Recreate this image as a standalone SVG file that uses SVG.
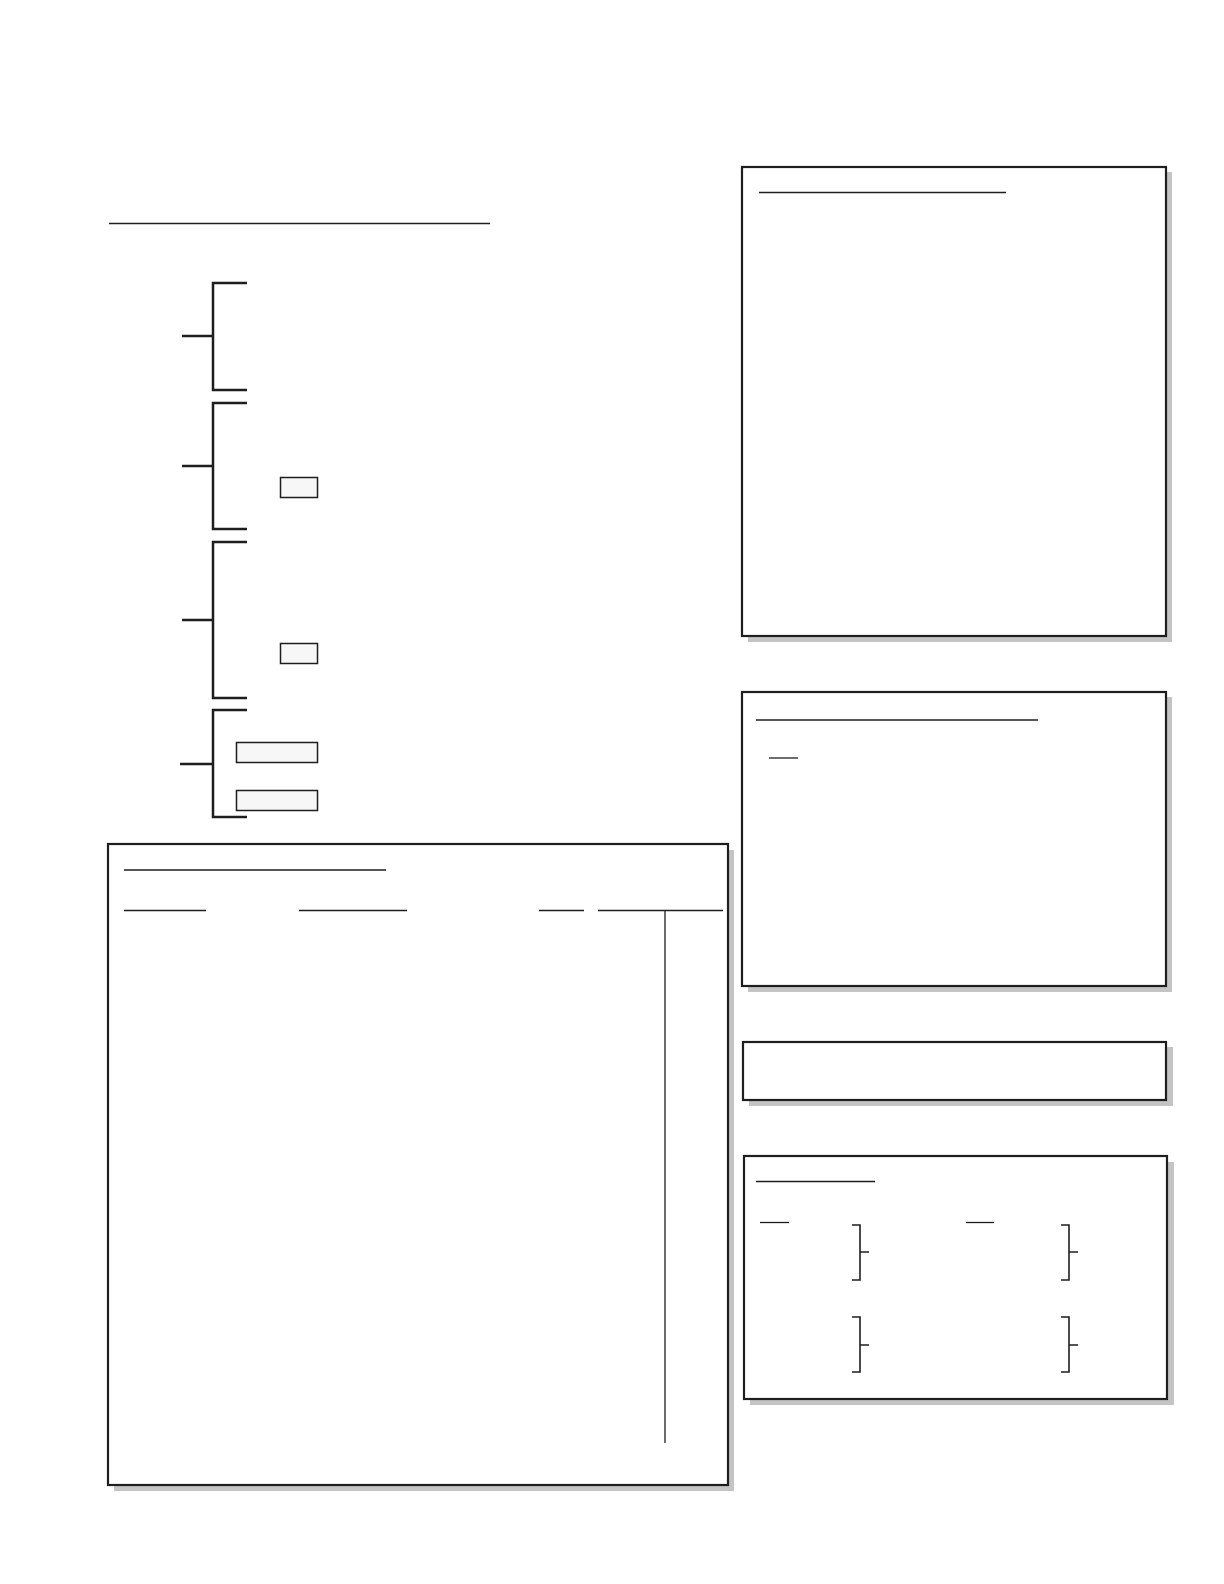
<svg xmlns="http://www.w3.org/2000/svg" width="1224" height="1584" viewBox="0 0 1224 1584">
<style>
.shadow{fill:#c4c4c4;stroke:none}
.panel{fill:#ffffff;stroke:#1e1e1e;stroke-width:2.2}
.rule{stroke:#1e1e1e;stroke-width:1.7;fill:none}
.thin{stroke:#1e1e1e;stroke-width:1.3;fill:none}
.br{stroke:#1e1e1e;stroke-width:2.5;fill:none}
.sbox{fill:#f7f7f7;stroke:#1e1e1e;stroke-width:1.5}
</style>
<rect width="1224" height="1584" fill="#ffffff"/>
<line class="rule" x1="109" y1="223.5" x2="490" y2="223.5"/>
<g id="bracket1"><path class="br" d="M247,283 H213 V390 H247 M182,336 H213"/></g>
<g id="bracket2"><path class="br" d="M247,403 H213 V529 H247 M182,466 H213"/>
<rect class="sbox" x="280.5" y="477.5" width="37" height="20"/></g>
<g id="bracket3"><path class="br" d="M247,542 H213 V698 H247 M182,620 H213"/>
<rect class="sbox" x="280.5" y="643.5" width="37" height="20"/></g>
<g id="bracket4"><path class="br" d="M247,710 H213 V817 H247 M180,764 H213"/>
<rect class="sbox" x="236.5" y="742.5" width="81" height="20"/>
<rect class="sbox" x="236.5" y="790.5" width="81" height="20"/></g>
<g id="panel-right1">
<rect class="shadow" x="748" y="172" width="424" height="470"/>
<rect class="panel" x="742" y="167" width="424" height="469"/>
<line class="rule" x1="759" y1="192.5" x2="1006" y2="192.5"/>
</g>
<g id="panel-right2">
<rect class="shadow" x="748" y="697" width="424" height="295"/>
<rect class="panel" x="742" y="692" width="424" height="294"/>
<line class="rule" x1="756" y1="720" x2="1038" y2="720"/>
<line class="thin" x1="769" y1="758" x2="798" y2="758"/>
</g>
<g id="panel-right3">
<rect class="shadow" x="749" y="1047" width="424" height="59"/>
<rect class="panel" x="743" y="1042" width="423" height="58"/>
</g>
<g id="panel-right4">
<rect class="shadow" x="750" y="1162" width="424" height="243"/>
<rect class="panel" x="744" y="1156" width="423" height="243"/>
<line class="rule" x1="756" y1="1181.5" x2="875" y2="1181.5"/>
<line class="thin" x1="760" y1="1222.5" x2="789" y2="1222.5"/>
<line class="thin" x1="966" y1="1222.5" x2="994" y2="1222.5"/>
<path class="thin" d="M852,1225 H860 V1280 H852 M860,1252 H869" style="stroke-width:1.6"/>
<path class="thin" d="M852,1317 H860 V1372 H852 M860,1345 H869" style="stroke-width:1.6"/>
<path class="thin" d="M1061,1225 H1069 V1280 H1061 M1069,1252 H1078" style="stroke-width:1.6"/>
<path class="thin" d="M1061,1317 H1069 V1372 H1061 M1069,1345 H1078" style="stroke-width:1.6"/>
</g>
<g id="panel-left">
<rect class="shadow" x="114" y="850" width="620" height="641"/>
<rect class="panel" x="108" y="844" width="620" height="641"/>
<line class="rule" x1="124" y1="870" x2="386" y2="870"/>
<line class="thin" x1="124" y1="910.5" x2="206" y2="910.5"/>
<line class="thin" x1="299" y1="910.5" x2="407" y2="910.5"/>
<line class="thin" x1="539" y1="910.5" x2="584" y2="910.5"/>
<line class="thin" x1="598" y1="910.5" x2="723" y2="910.5"/>
<line class="thin" x1="665" y1="910.5" x2="665" y2="1443"/>
</g>
</svg>
